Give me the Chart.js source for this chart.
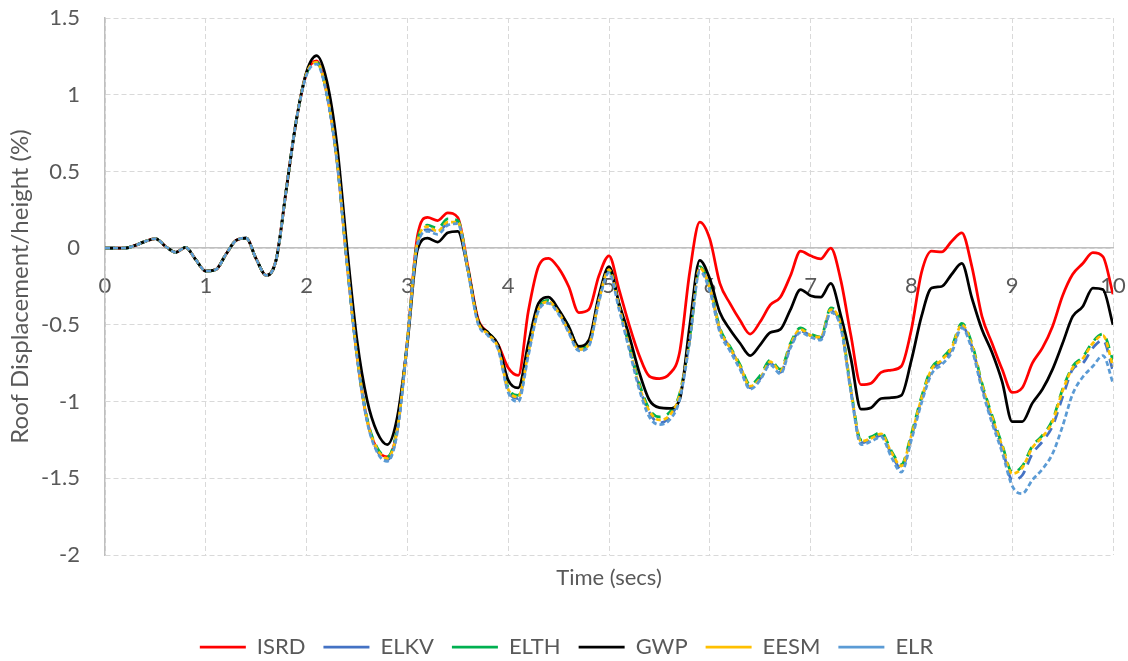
<!DOCTYPE html>
<html>
<head>
<meta charset="utf-8">
<script src="https://cdn.jsdelivr.net/npm/chart.js@4.4.1/dist/chart.umd.min.js"></script>
<style>
  html, body { margin: 0; padding: 0; background: #fff; }
  #chart { display: block; }
</style>
</head>
<body>
<canvas id="chart" width="1128" height="661"></canvas>
<script>
const timeSecs = [
  0, 0.1, 0.2, 0.3, 0.4, 0.5, 0.6, 0.7, 0.8, 0.9,
  1, 1.1, 1.2, 1.3, 1.4, 1.5, 1.6, 1.7, 1.8, 1.9,
  2, 2.1, 2.2, 2.3, 2.4, 2.5, 2.6, 2.7, 2.8, 2.9,
  3, 3.1, 3.2, 3.3, 3.4, 3.5, 3.6, 3.7, 3.8, 3.9,
  4, 4.1, 4.2, 4.3, 4.4, 4.5, 4.6, 4.7, 4.8, 4.9,
  5, 5.1, 5.2, 5.3, 5.4, 5.5, 5.6, 5.7, 5.8, 5.9,
  6, 6.1, 6.2, 6.3, 6.4, 6.5, 6.6, 6.7, 6.8, 6.9,
  7, 7.1, 7.2, 7.3, 7.4, 7.5, 7.6, 7.7, 7.8, 7.9,
  8, 8.1, 8.2, 8.3, 8.4, 8.5, 8.6, 8.7, 8.8, 8.9,
  9, 9.1, 9.2, 9.3, 9.4, 9.5, 9.6, 9.7, 9.8, 9.9,
  10
];

const isrd = [
  0, 0, 0, 0.018, 0.044, 0.062, 0.012, -0.027, 0.005, -0.075,
  -0.15, -0.14, -0.04, 0.05, 0.065, -0.07, -0.178, -0.07, 0.39, 0.84,
  1.14, 1.22, 1.01, 0.58, -0.09, -0.70, -1.12, -1.31, -1.36, -1.18,
  -0.60, 0.08, 0.20, 0.18, 0.23, 0.20, -0.12, -0.46, -0.55, -0.63,
  -0.78, -0.83, -0.41, -0.12, -0.066, -0.13, -0.25, -0.42, -0.40, -0.18,
  -0.05, -0.27, -0.50, -0.70, -0.835, -0.85, -0.82, -0.68, -0.16, 0.17,
  0.06, -0.23, -0.36, -0.47, -0.56, -0.48, -0.37, -0.32, -0.18, -0.02,
  -0.05, -0.07, 0.0, -0.21, -0.57, -0.89, -0.88, -0.81, -0.795, -0.77,
  -0.53, -0.16, -0.02, -0.025, 0.045, 0.10, -0.12, -0.445, -0.62, -0.79,
  -0.94, -0.91, -0.75, -0.65, -0.51, -0.31, -0.17, -0.10, -0.03, -0.055,
  -0.30
];

const elkv = [
  0, 0, 0, 0.018, 0.044, 0.062, 0.012, -0.027, 0.005, -0.075,
  -0.15, -0.14, -0.04, 0.05, 0.065, -0.07, -0.178, -0.07, 0.39, 0.84,
  1.14, 1.21, 1.01, 0.58, -0.09, -0.70, -1.12, -1.32, -1.38, -1.19,
  -0.60, 0.03, 0.12, 0.11, 0.16, 0.17, -0.14, -0.48, -0.56, -0.65,
  -0.93, -0.98, -0.68, -0.40, -0.35, -0.42, -0.54, -0.66, -0.63, -0.34,
  -0.15, -0.38, -0.64, -0.90, -1.07, -1.14, -1.10, -0.97, -0.60, -0.13,
  -0.26, -0.53, -0.65, -0.77, -0.91, -0.85, -0.75, -0.81, -0.64, -0.54,
  -0.57, -0.59, -0.41, -0.51, -0.93, -1.27, -1.25, -1.22, -1.34, -1.44,
  -1.23, -0.99, -0.80, -0.74, -0.66, -0.51, -0.64, -0.90, -1.12, -1.30,
  -1.51, -1.48, -1.34, -1.26, -1.16, -0.97, -0.79, -0.75, -0.65, -0.60,
  -0.80
];

const elth = [
  0, 0, 0, 0.018, 0.044, 0.062, 0.012, -0.027, 0.005, -0.075,
  -0.15, -0.14, -0.04, 0.05, 0.065, -0.07, -0.178, -0.07, 0.39, 0.84,
  1.14, 1.21, 1.01, 0.58, -0.09, -0.70, -1.11, -1.30, -1.36, -1.17,
  -0.60, 0.05, 0.15, 0.13, 0.19, 0.18, -0.13, -0.47, -0.55, -0.64,
  -0.91, -0.96, -0.66, -0.39, -0.34, -0.41, -0.51, -0.65, -0.62, -0.33,
  -0.14, -0.37, -0.63, -0.88, -1.05, -1.10, -1.07, -0.95, -0.59, -0.12,
  -0.25, -0.52, -0.64, -0.76, -0.89, -0.83, -0.73, -0.79, -0.62, -0.52,
  -0.56, -0.58, -0.39, -0.49, -0.92, -1.25, -1.23, -1.20, -1.32, -1.41,
  -1.21, -0.97, -0.78, -0.72, -0.64, -0.49, -0.62, -0.88, -1.09, -1.28,
  -1.46, -1.42, -1.29, -1.22, -1.12, -0.92, -0.77, -0.71, -0.61, -0.56,
  -0.73
];

const gwp = [
  0, 0, 0, 0.018, 0.044, 0.062, 0.012, -0.027, 0.005, -0.075,
  -0.15, -0.14, -0.04, 0.05, 0.065, -0.07, -0.178, -0.07, 0.39, 0.84,
  1.15, 1.255, 1.09, 0.68, 0.01, -0.60, -0.99, -1.20, -1.28, -1.10,
  -0.62, -0.01, 0.065, 0.04, 0.10, 0.11, -0.14, -0.47, -0.55, -0.63,
  -0.86, -0.91, -0.62, -0.36, -0.32, -0.40, -0.51, -0.64, -0.60, -0.31,
  -0.12, -0.36, -0.57, -0.81, -0.99, -1.04, -1.045, -0.99, -0.51, -0.08,
  -0.20, -0.42, -0.53, -0.62, -0.70, -0.63, -0.55, -0.53, -0.40, -0.27,
  -0.31, -0.32, -0.23, -0.44, -0.72, -1.05, -1.04, -0.98, -0.975, -0.96,
  -0.73, -0.445, -0.26, -0.25, -0.17, -0.10, -0.325, -0.53, -0.68, -0.87,
  -1.13, -1.13, -1.01, -0.92, -0.79, -0.62, -0.445, -0.38, -0.26, -0.27,
  -0.50
];

const eesm = [
  0, 0, 0, 0.018, 0.044, 0.062, 0.012, -0.027, 0.005, -0.075,
  -0.15, -0.14, -0.04, 0.05, 0.065, -0.07, -0.178, -0.07, 0.39, 0.84,
  1.14, 1.21, 1.01, 0.58, -0.09, -0.70, -1.12, -1.31, -1.37, -1.18,
  -0.60, 0.04, 0.14, 0.11, 0.17, 0.17, -0.14, -0.48, -0.56, -0.65,
  -0.92, -0.97, -0.68, -0.40, -0.35, -0.42, -0.54, -0.66, -0.63, -0.34,
  -0.14, -0.38, -0.64, -0.90, -1.06, -1.12, -1.09, -0.96, -0.60, -0.13,
  -0.26, -0.53, -0.65, -0.77, -0.90, -0.85, -0.74, -0.80, -0.63, -0.53,
  -0.57, -0.58, -0.40, -0.50, -0.93, -1.26, -1.24, -1.21, -1.33, -1.42,
  -1.22, -0.98, -0.79, -0.73, -0.65, -0.50, -0.63, -0.89, -1.10, -1.29,
  -1.47, -1.43, -1.30, -1.23, -1.13, -0.93, -0.78, -0.72, -0.62, -0.57,
  -0.77
];

const elr = [
  0, 0, 0, 0.018, 0.044, 0.062, 0.012, -0.027, 0.005, -0.075,
  -0.15, -0.14, -0.04, 0.05, 0.065, -0.07, -0.178, -0.07, 0.39, 0.84,
  1.13, 1.20, 1.00, 0.57, -0.10, -0.71, -1.13, -1.33, -1.39, -1.20,
  -0.61, 0.02, 0.11, 0.09, 0.15, 0.16, -0.15, -0.49, -0.57, -0.66,
  -0.94, -1.00, -0.70, -0.41, -0.36, -0.43, -0.55, -0.67, -0.64, -0.35,
  -0.16, -0.40, -0.66, -0.92, -1.10, -1.15, -1.12, -0.99, -0.61, -0.15,
  -0.28, -0.55, -0.67, -0.79, -0.92, -0.86, -0.76, -0.82, -0.65, -0.55,
  -0.58, -0.60, -0.42, -0.52, -0.94, -1.28, -1.26, -1.23, -1.36, -1.46,
  -1.25, -1.01, -0.82, -0.76, -0.68, -0.52, -0.66, -0.92, -1.14, -1.33,
  -1.55, -1.60, -1.51, -1.44, -1.34, -1.16, -0.95, -0.84, -0.77, -0.70,
  -0.88
];

const seriesNames = ['ISRD', 'ELKV', 'ELTH', 'GWP', 'EESM', 'ELR'];
const seriesValues = [isrd, elkv, elth, gwp, eesm, elr];
const seriesColors = ['#FF0000', '#4472C4', '#00B050', '#000000', '#FFC000', '#5B9BD5'];
const seriesDash = [[], [10, 7], [10, 7], [], [5, 3], [5, 3]];

const yTicks = [-2, -1.5, -1, -0.5, 0, 0.5, 1, 1.5];
const yTickLabels = ['-2', '-1.5', '-1', '-0.5', '0', '0.5', '1', '1.5'];
const xTicks = [0, 1, 2, 3, 4, 5, 6, 7, 8, 9, 10];
const xTickLabels = ['0', '1', '2', '3', '4', '5', '6', '7', '8', '9', '10'];

const textGrey = '#595959';
const gridGrey = '#D9D9D9';
const axisGrey = '#BFBFBF';
const fontFamily = 'Lato, "Liberation Sans", sans-serif';

const toPoints = values => values.map((v, i) => ({ x: timeSecs[i], y: v }));

// later series are drawn on top, as in the original
const datasets = seriesNames.map((name, i) => ({
  label: name,
  data: toPoints(seriesValues[i]),
  borderColor: seriesColors[i],
  backgroundColor: seriesColors[i],
  borderDash: seriesDash[i],
  borderWidth: 2.75,
  pointRadius: 0,
  fill: false,
  cubicInterpolationMode: 'monotone',
  xAxisID: 'x',
  yAxisID: 'y',
  order: seriesNames.length - i,
}));

// nudge the legend a little lower and to the right
const legendNudge = {
  id: 'legendNudge',
  afterLayout(chart) {
    const lg = chart.legend;
    lg.left += 10;
    lg.right += 10;
    lg.top += 7;
    lg.bottom += 7;
  },
};

new Chart(document.getElementById('chart'), {
  type: 'line',
  data: { datasets },
  plugins: [legendNudge],
  options: {
    responsive: false,
    animation: false,
    devicePixelRatio: 1,
    layout: { padding: { top: 18, right: 15, left: 0, bottom: 0 } },
    plugins: {
      tooltip: { enabled: false },
      legend: {
        position: 'bottom',
        labels: {
          usePointStyle: true,
          pointStyle: 'line',
          pointStyleWidth: 46,
          padding: 18,
          color: textGrey,
          font: { family: fontFamily, size: 22 },
          sort: (a, b) => a.datasetIndex - b.datasetIndex,
        },
      },
    },
    scales: {
      x: {
        type: 'linear',
        position: { y: 0 },
        min: 0,
        max: 10,
        afterBuildTicks: axis => {
          axis.ticks = xTicks.map(v => ({ value: v }));
        },
        grid: {
          color: gridGrey,
          lineWidth: 1,
          drawTicks: true,
          tickLength: 25,
          tickColor: 'rgba(0,0,0,0)',
        },
        border: { display: true, color: axisGrey, width: 1.5, dash: [5, 3] },
        ticks: {
          color: textGrey,
          padding: 0,
          font: { family: fontFamily, size: 22 },
          maxRotation: 0,
          callback: (value, index) => xTickLabels[index],
        },
      },
      xb: {
        type: 'linear',
        position: 'bottom',
        ticks: { display: false },
        grid: { display: false },
        border: { display: false },
        title: {
          display: true,
          text: 'Time (secs)',
          color: textGrey,
          font: { family: fontFamily, size: 22 },
          padding: { top: 0, bottom: 20 },
        },
        afterFit: axis => {
          axis.height = 56;
        },
      },
      y: {
        type: 'linear',
        min: -2,
        max: 1.5,
        afterBuildTicks: axis => {
          axis.ticks = yTicks.map(v => ({ value: v }));
        },
        grid: {
          color: gridGrey,
          lineWidth: 1,
          drawTicks: true,
          tickLength: 25,
          tickColor: 'rgba(0,0,0,0)',
        },
        border: { display: true, color: axisGrey, width: 1.5, dash: [5, 3] },
        ticks: {
          color: textGrey,
          padding: 0,
          font: { family: fontFamily, size: 22 },
          callback: (value, index) => yTickLabels[index],
        },
        title: {
          display: true,
          text: 'Roof Displacement/height (%)',
          color: textGrey,
          font: { family: fontFamily, size: 24 },
          padding: { top: 6, bottom: 0 },
        },
        afterFit: axis => {
          axis.width = 105;
        },
      },
    },
  },
});
</script>
</body>
</html>
